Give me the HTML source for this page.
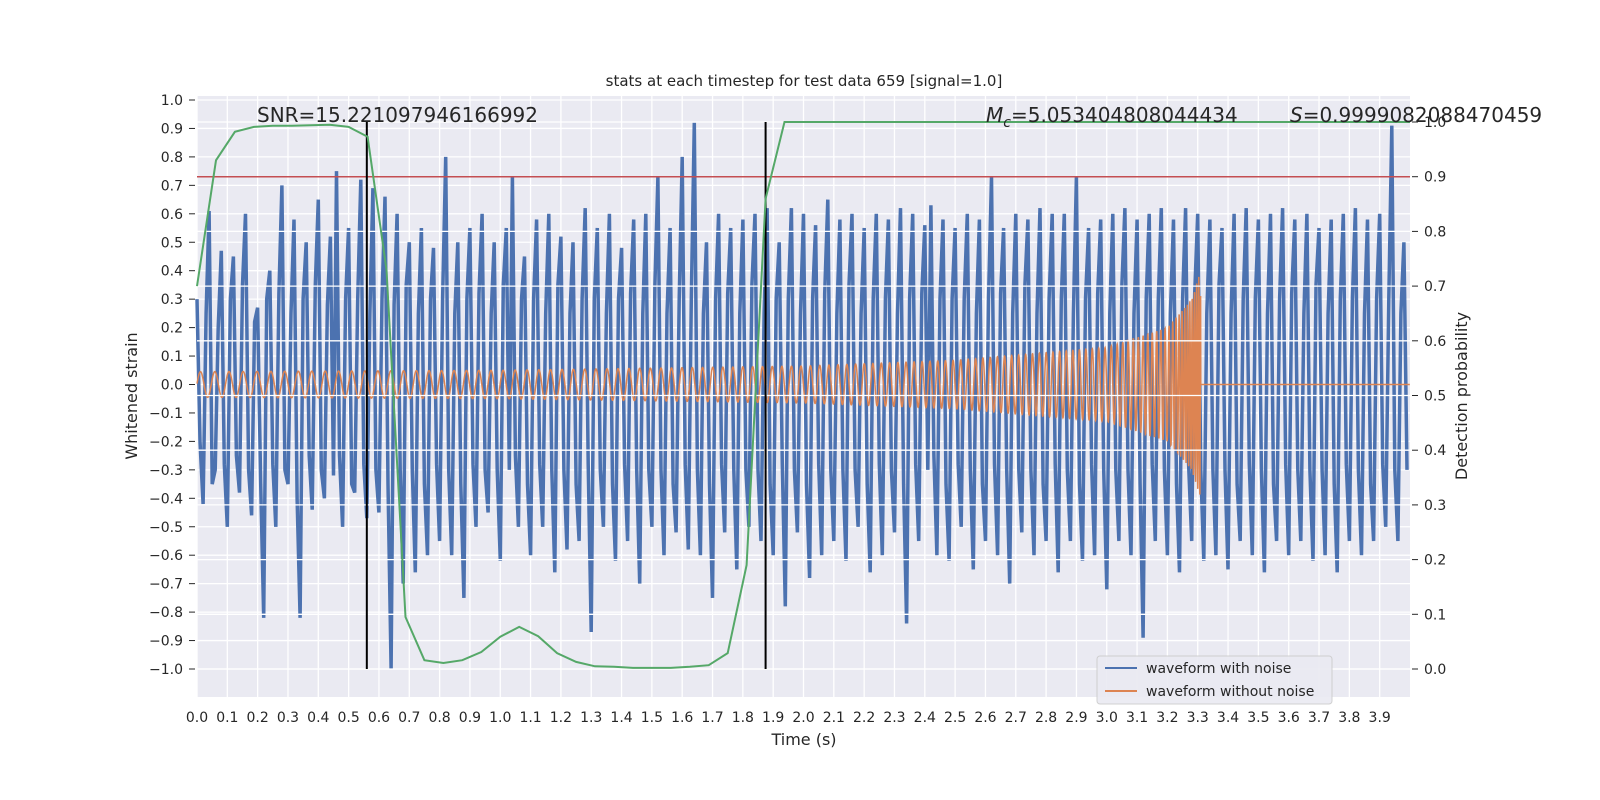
<!DOCTYPE html>
<html><head><meta charset="utf-8"><style>
html,body{margin:0;padding:0;background:#fff;overflow:hidden;width:1600px;height:800px;}
svg{display:block;}
svg text{font-family:"DejaVu Sans","Liberation Sans",sans-serif;fill:#262626;}
</style></head><body>
<svg id="chart" width="1600" height="800" xmlns="http://www.w3.org/2000/svg">
<rect x="197" y="96" width="1213" height="601" fill="#eaeaf2"/>
<g id="gridL"></g>
<g id="ticks"></g>
<g id="series"></g>
<text x="804" y="86" font-size="15" text-anchor="middle">stats at each timestep for test data 659 [signal=1.0]</text>
<text x="804" y="745" font-size="16" text-anchor="middle">Time (s)</text>
<text transform="translate(137,396) rotate(-90)" font-size="16" text-anchor="middle">Whitened strain</text>
<text transform="translate(1467,396) rotate(-90)" font-size="16" text-anchor="middle">Detection probability</text>
<text x="257" y="122" font-size="20">SNR=15.221097946166992</text>
<text x="986" y="122" font-size="20"><tspan font-style="italic">M</tspan><tspan font-style="italic" font-size="14" dy="5">c</tspan><tspan dy="-5">=5.053404808044434</tspan></text>
<text x="1290" y="122" font-size="20"><tspan font-style="italic">S</tspan>=0.9999082088470459</text>
<g>
<rect x="1097" y="656" width="235" height="48" rx="3" fill="#eaeaf2" stroke="#ccc" opacity="0.9"/>
<line x1="1105" y1="668" x2="1137" y2="668" stroke="#4c72b0" stroke-width="2"/>
<text x="1146" y="673" font-size="14">waveform with noise</text>
<line x1="1105" y1="691" x2="1137" y2="691" stroke="#dd8452" stroke-width="2"/>
<text x="1146" y="696" font-size="14">waveform without noise</text>
</g>
</svg>
<script>
const noisy = [
0.3,-0.2,-0.42,0.25,0.61,-0.35,-0.3,0.2,0.47,-0.28,-0.5,0.3,0.45,-0.25,-0.38,0.35,0.6,-0.3,-0.46,0.22,
0.27,-0.35,-0.82,0.3,0.4,-0.28,-0.5,0.32,0.7,-0.3,-0.35,0.25,0.58,-0.4,-0.82,0.3,0.5,-0.25,-0.44,0.35,
0.65,-0.3,-0.4,0.28,0.52,-0.32,0.75,-0.25,-0.5,0.3,0.55,-0.35,-0.38,0.3,0.72,-0.28,-0.47,0.25,0.69,-0.3,
-0.45,0.3,0.66,-0.35,-1.0,0.28,0.6,-0.3,-0.7,0.35,0.5,-0.3,-0.66,0.25,0.55,-0.35,-0.6,0.3,0.48,-0.28,
-0.55,0.3,0.8,-0.3,-0.6,0.25,0.5,-0.35,-0.75,0.3,0.55,-0.28,-0.5,0.32,0.6,-0.3,-0.45,0.25,0.5,-0.3,
-0.62,0.35,0.55,-0.3,0.73,-0.25,-0.5,0.3,0.45,-0.35,-0.6,0.3,0.58,-0.28,-0.5,0.25,0.6,-0.3,-0.66,0.35,
0.52,-0.3,-0.58,0.25,0.5,-0.35,-0.55,0.3,0.62,-0.28,-0.87,0.3,0.55,-0.3,-0.5,0.25,0.6,-0.35,-0.62,0.3,
0.48,-0.28,-0.55,0.32,0.58,-0.3,-0.7,0.25,0.6,-0.3,-0.5,0.35,0.73,-0.3,-0.6,0.25,0.55,-0.35,-0.52,0.3,
0.8,-0.28,-0.58,0.3,0.92,-0.3,-0.6,0.25,0.5,-0.35,-0.75,0.3,0.6,-0.28,-0.52,0.32,0.55,-0.3,-0.65,0.25,
0.58,-0.3,-0.5,0.35,0.6,-0.3,-0.55,0.25,0.62,-0.35,-0.6,0.3,0.5,-0.28,-0.78,0.3,0.62,-0.3,-0.52,0.25,
0.6,-0.35,-0.68,0.3,0.56,-0.28,-0.6,0.32,0.65,-0.3,-0.55,0.25,0.58,-0.3,-0.62,0.35,0.6,-0.3,-0.5,0.25,
0.55,-0.35,-0.66,0.3,0.6,-0.28,-0.6,0.3,0.58,-0.3,-0.52,0.25,0.62,-0.35,-0.84,0.3,0.6,-0.28,-0.55,0.32,
0.56,-0.3,0.63,-0.25,-0.6,0.3,0.58,-0.35,-0.62,0.3,0.55,-0.28,-0.5,0.3,0.6,-0.3,-0.65,0.25,0.58,-0.35,
-0.55,0.3,0.73,-0.28,-0.6,0.32,0.55,-0.3,-0.7,0.25,0.6,-0.3,-0.52,0.35,0.58,-0.3,-0.6,0.25,0.62,-0.35,
-0.55,0.3,0.6,-0.28,-0.66,0.3,0.6,-0.3,-0.55,0.25,0.73,-0.35,-0.62,0.3,0.55,-0.28,-0.6,0.32,0.58,-0.3,
-0.72,0.25,0.6,-0.3,-0.55,0.35,0.62,-0.3,-0.6,0.25,0.58,-0.35,-0.89,0.3,0.6,-0.28,-0.55,0.3,0.62,-0.3,
-0.6,0.25,0.58,-0.35,-0.66,0.3,0.62,-0.28,-0.55,0.32,0.6,-0.3,-0.62,0.25,0.58,-0.3,-0.6,0.35,0.55,-0.3,
-0.65,0.25,0.6,-0.35,-0.55,0.3,0.62,-0.28,-0.6,0.3,0.58,-0.3,-0.66,0.25,0.6,-0.35,-0.55,0.3,0.62,-0.28,
-0.6,0.32,0.58,-0.3,-0.55,0.25,0.6,-0.3,-0.62,0.35,0.55,-0.3,-0.6,0.25,0.58,-0.35,-0.66,0.3,0.6,-0.28,
-0.55,0.3,0.62,-0.3,-0.6,0.25,0.58,-0.35,-0.55,0.3,0.6,-0.28,-0.5,0.3,0.91,-0.3,-0.55,0.25,0.5,-0.3];
const noisyDt = 0.01;
const envT = [0,1,2,2.5,3,3.2,3.28,3.31];
const envA = [0.045,0.05,0.065,0.085,0.13,0.2,0.3,0.4];
const freqT = [0,1,2,3,3.2,3.31];
const freqHz = [21,25,32,48,75,150];
const chirpEnd = 3.31;
const probs = [0.70,0.93,0.982,0.991,0.993,0.993,0.994,0.995,0.991,0.973,0.73,0.095,0.016,0.011,0.016,0.031,0.059,0.077,0.06,0.029,0.013,0.005,0.004,0.002,0.002,0.002,0.004,0.007,0.029,0.19,0.86,1.0,1.0,1.0,1.0,1.0,1.0,1.0,1.0,1.0,1.0,1.0,1.0,1.0,1.0,1.0,1.0,1.0,1.0,1.0,1.0,1.0,1.0,1.0,1.0,1.0,1.0,1.0,1.0,1.0,1.0,1.0,1.0,1.0,1.0];
const probDt = 0.0625;
const threshold = 0.9;
const markers = [0.56,1.875];
const xTicks = [0,0.1,0.2,0.3,0.4,0.5,0.6,0.7,0.8,0.9,1.0,1.1,1.2,1.3,1.4,1.5,1.6,1.7,1.8,1.9,2.0,2.1,2.2,2.3,2.4,2.5,2.6,2.7,2.8,2.9,3.0,3.1,3.2,3.3,3.4,3.5,3.6,3.7,3.8,3.9];
const yTicks = [1,0.9,0.8,0.7,0.6,0.5,0.4,0.3,0.2,0.1,0,-0.1,-0.2,-0.3,-0.4,-0.5,-0.6,-0.7,-0.8,-0.9,-1.0];
const rTicks = [0,0.1,0.2,0.3,0.4,0.5,0.6,0.7,0.8,0.9,1.0];

const X = t => 197 + t*303.25;
const Y = v => 384.5 - v*284.5;
const YR = p => 669 - p*547;
const NS = 'http://www.w3.org/2000/svg';
function mk(tag, parent, attrs){const e=document.createElementNS(NS,tag);for(const k in attrs)e.setAttribute(k,attrs[k]);parent.appendChild(e);return e;}
const gridL=document.getElementById('gridL'), ticks=document.getElementById('ticks'), series=document.getElementById('series');
function interp(ts,vs,t){if(t<=ts[0])return vs[0];for(let i=1;i<ts.length;i++){if(t<=ts[i]){const f=(t-ts[i-1])/(ts[i]-ts[i-1]);return vs[i-1]+f*(vs[i]-vs[i-1]);}}return vs[vs.length-1];}

xTicks.forEach(t=>{
  const l=mk('line',gridL,{x1:X(t),x2:X(t),y1:96,y2:697,stroke:'#fff','stroke-width':1.3});
  
  
  const tx=mk('text',ticks,{x:X(t),y:722,'font-size':14,'text-anchor':'middle'});
  tx.textContent=t.toFixed(1);
  
  
});
yTicks.forEach(v=>{
  const l=mk('line',gridL,{x1:197,x2:1410,y1:Y(v),y2:Y(v),stroke:'#fff','stroke-width':1.3});
  
  
  const tx=mk('text',ticks,{x:183,y:Y(v)+5,'font-size':14,'text-anchor':'end'});
  tx.textContent=(v<0?'\u2212':'')+Math.abs(v).toFixed(1);
  
  
  mk('line',ticks,{x1:189,x2:195,y1:Y(v),y2:Y(v),stroke:'#262626','stroke-width':1});
});

let d='';
noisy.forEach((v,i)=>{d+=(i?'L':'M')+X(i*noisyDt).toFixed(1)+','+Y(v).toFixed(1);});
const pN=mk('path',series,{d:d,fill:'none',stroke:'#4c72b0','stroke-width':3.5,'stroke-linejoin':'bevel'});



let ph=0,dc='',dt=0.0005;
for(let t=0;t<=4;t+=dt){
  let v=0;
  if(t<chirpEnd){ph+=2*Math.PI*interp(freqT,freqHz,t)*dt;v=interp(envT,envA,t)*Math.sin(ph);}
  dc+=(t?'L':'M')+X(t).toFixed(2)+','+Y(v).toFixed(2);
}
const pC=mk('path',series,{d:dc,fill:'none',stroke:'#dd8452','stroke-width':1.5});



rTicks.forEach(p=>{
  const l=mk('line',series,{x1:197,x2:1410,y1:YR(p),y2:YR(p),stroke:'#fff','stroke-width':1.3});
  
  
  mk('line',series,{x1:1412,x2:1418,y1:YR(p),y2:YR(p),stroke:'#262626','stroke-width':1});
  const tx=mk('text',series,{x:1424,y:YR(p)+5,'font-size':14});
  tx.textContent=p.toFixed(1);
  
  
});

const th=mk('line',series,{x1:197,x2:1410,y1:YR(threshold),y2:YR(threshold),stroke:'#c44e52','stroke-width':1.5});



markers.forEach(t=>{
  const l=mk('line',series,{x1:X(t),x2:X(t),y1:YR(1),y2:YR(0),stroke:'#000','stroke-width':2});
  
  
});

let dp='';
probs.forEach((p,i)=>{dp+=(i?'L':'M')+X(i*probDt).toFixed(1)+','+YR(p).toFixed(1);});
const pP=mk('path',series,{d:dp,fill:'none',stroke:'#55a868','stroke-width':2});


</script>
</body></html>
